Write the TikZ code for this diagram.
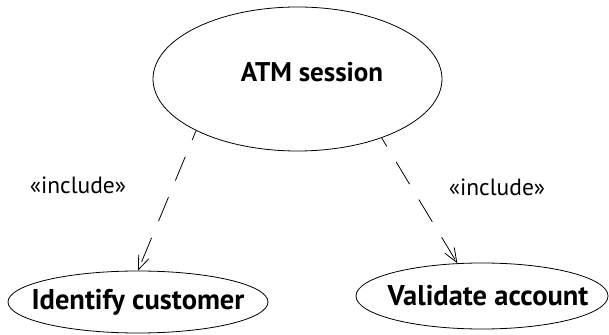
\documentclass[tikz,border=0pt]{standalone}
\usepackage{fontspec}
\setmainfont{PT Sans}
\usetikzlibrary{arrows.meta,shapes.geometric}
\tikzset{
  usecase/.style={draw, ellipse, line width=0.8pt, inner sep=0pt, font=\bfseries},
  incl/.style={dashed, line width=0.8pt, dash pattern=on 26pt off 18pt, dash phase=16pt,
    -{Straight Barb[length=14pt,width=11pt,line width=0.8pt]}},
  stereo/.style={font=\fontsize{23.5}{26}\selectfont}
}

\begin{document}
\begin{tikzpicture}[x=1pt,y=1pt]
\useasboundingbox (0,0) rectangle (609,334);
% use cases
\node[usecase, minimum width=289pt, minimum height=144pt, font=\bfseries\fontsize{27}{30}\selectfont]
  (atm) at (297.5,255) {\makebox[0pt]{\hspace*{29pt}\raisebox{14pt}{ATM session}}};
\node[usecase, minimum width=260pt, minimum height=62pt, font=\bfseries\fontsize{28.5}{32}\selectfont]
  (ident) at (138,32) {\makebox[0pt]{Identify customer}};
\node[usecase, minimum width=252pt, minimum height=66pt, font=\bfseries\fontsize{28.5}{32}\selectfont]
  (valid) at (482,38) {\makebox[0pt]{\hspace*{12pt}Validate account}};
% include relations
\draw[incl] (atm.207) -- (ident.north);
\draw[incl] (atm.325) -- (valid.127);
\node[stereo] (inclleft) at (78,149) {«include»};
\node[stereo] (inclright) at (497,147) {«include»};
\end{tikzpicture}
\end{document}
